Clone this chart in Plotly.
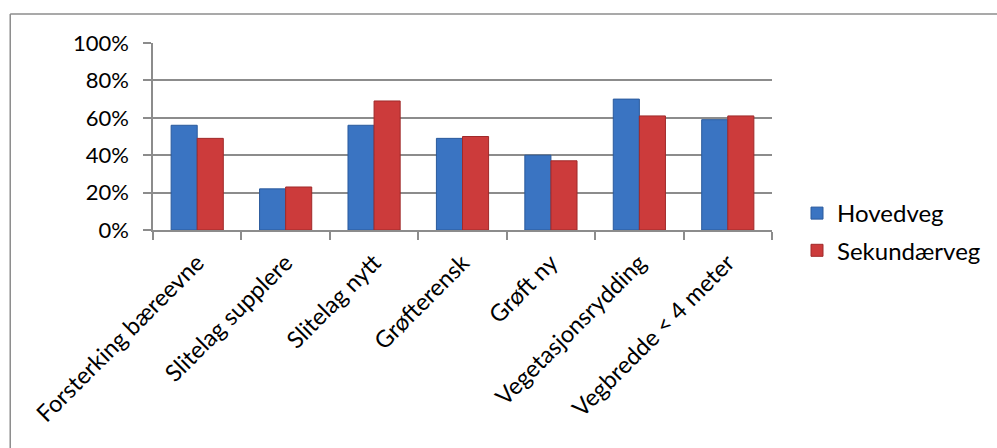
import plotly.graph_objects as go

categories = ["Forsterking bæreevne", "Slitelag supplere", "Slitelag nytt",
              "Grøfterensk", "Grøft ny", "Vegetasjonsrydding", "Vegbredde < 4 meter"]
hovedveg = [0.56, 0.22, 0.56, 0.49, 0.40, 0.70, 0.59]
sekundaerveg = [0.49, 0.23, 0.69, 0.50, 0.37, 0.61, 0.61]
series_names = ["Hovedveg", "Sekundærveg"]
y_ticks = [0, 0.2, 0.4, 0.6, 0.8, 1.0]

FONT = "Lato"
GRID = "#8c8c8c"

fig = go.Figure()
fig.add_trace(go.Bar(x=categories, y=hovedveg, name=series_names[0],
                     marker=dict(color="#3a74c2", line=dict(color="#2a5a9c", width=1)),
                     legendgroup="a"))
fig.add_trace(go.Bar(x=categories, y=sekundaerveg, name=series_names[1],
                     marker=dict(color="#cc3b3b", line=dict(color="#a02a2a", width=1)),
                     legendgroup="b"))

L, R, T, B = 153, 224, 43, 218
W, H = 997, 448
pw, ph = W - L - R, H - T - B
px = lambda x: (x - L) / pw
py = lambda y: 1 - (y - T) / ph

fig.update_layout(
    width=W, height=H,
    margin=dict(l=L, r=R, t=T, b=B, pad=0),
    paper_bgcolor="white", plot_bgcolor="white",
    font=dict(family=FONT, size=22, color="black"),
    barmode="group", bargap=0.41, bargroupgap=0.0,
    showlegend=True,
    legend=dict(x=px(797), y=py(191), xanchor="left", yanchor="top",
                font=dict(size=24), tracegroupgap=3, bgcolor="rgba(0,0,0,0)"),
    xaxis=dict(showgrid=False, showline=True, linecolor=GRID, linewidth=1.5,
               ticks="outside", tickson="boundaries", ticklen=8, tickcolor=GRID,
               tickwidth=1.5, tickangle=-45, tickfont=dict(size=23.5),
               ticklabelstandoff=8),
    yaxis=dict(range=[0, 1], tickvals=y_ticks, tickformat=".0%",
               showgrid=True, gridcolor=GRID, gridwidth=1.5,
               showline=True, linecolor=GRID, linewidth=1.5,
               ticks="outside", ticklen=8, tickcolor=GRID, tickwidth=1.5,
               ticklabelstandoff=10, zeroline=False, tickfont=dict(size=22)),
    shapes=[
        dict(type="line", xref="paper", yref="paper", x0=px(10), x1=px(1000),
             y0=py(14), y1=py(14), line=dict(color="#8c8c8c", width=1.5)),
        dict(type="line", xref="paper", yref="paper", x0=px(10), x1=px(10),
             y0=py(14), y1=py(460), line=dict(color="#8c8c8c", width=1.5)),
    ],
)

fig.write_html("out.html")
